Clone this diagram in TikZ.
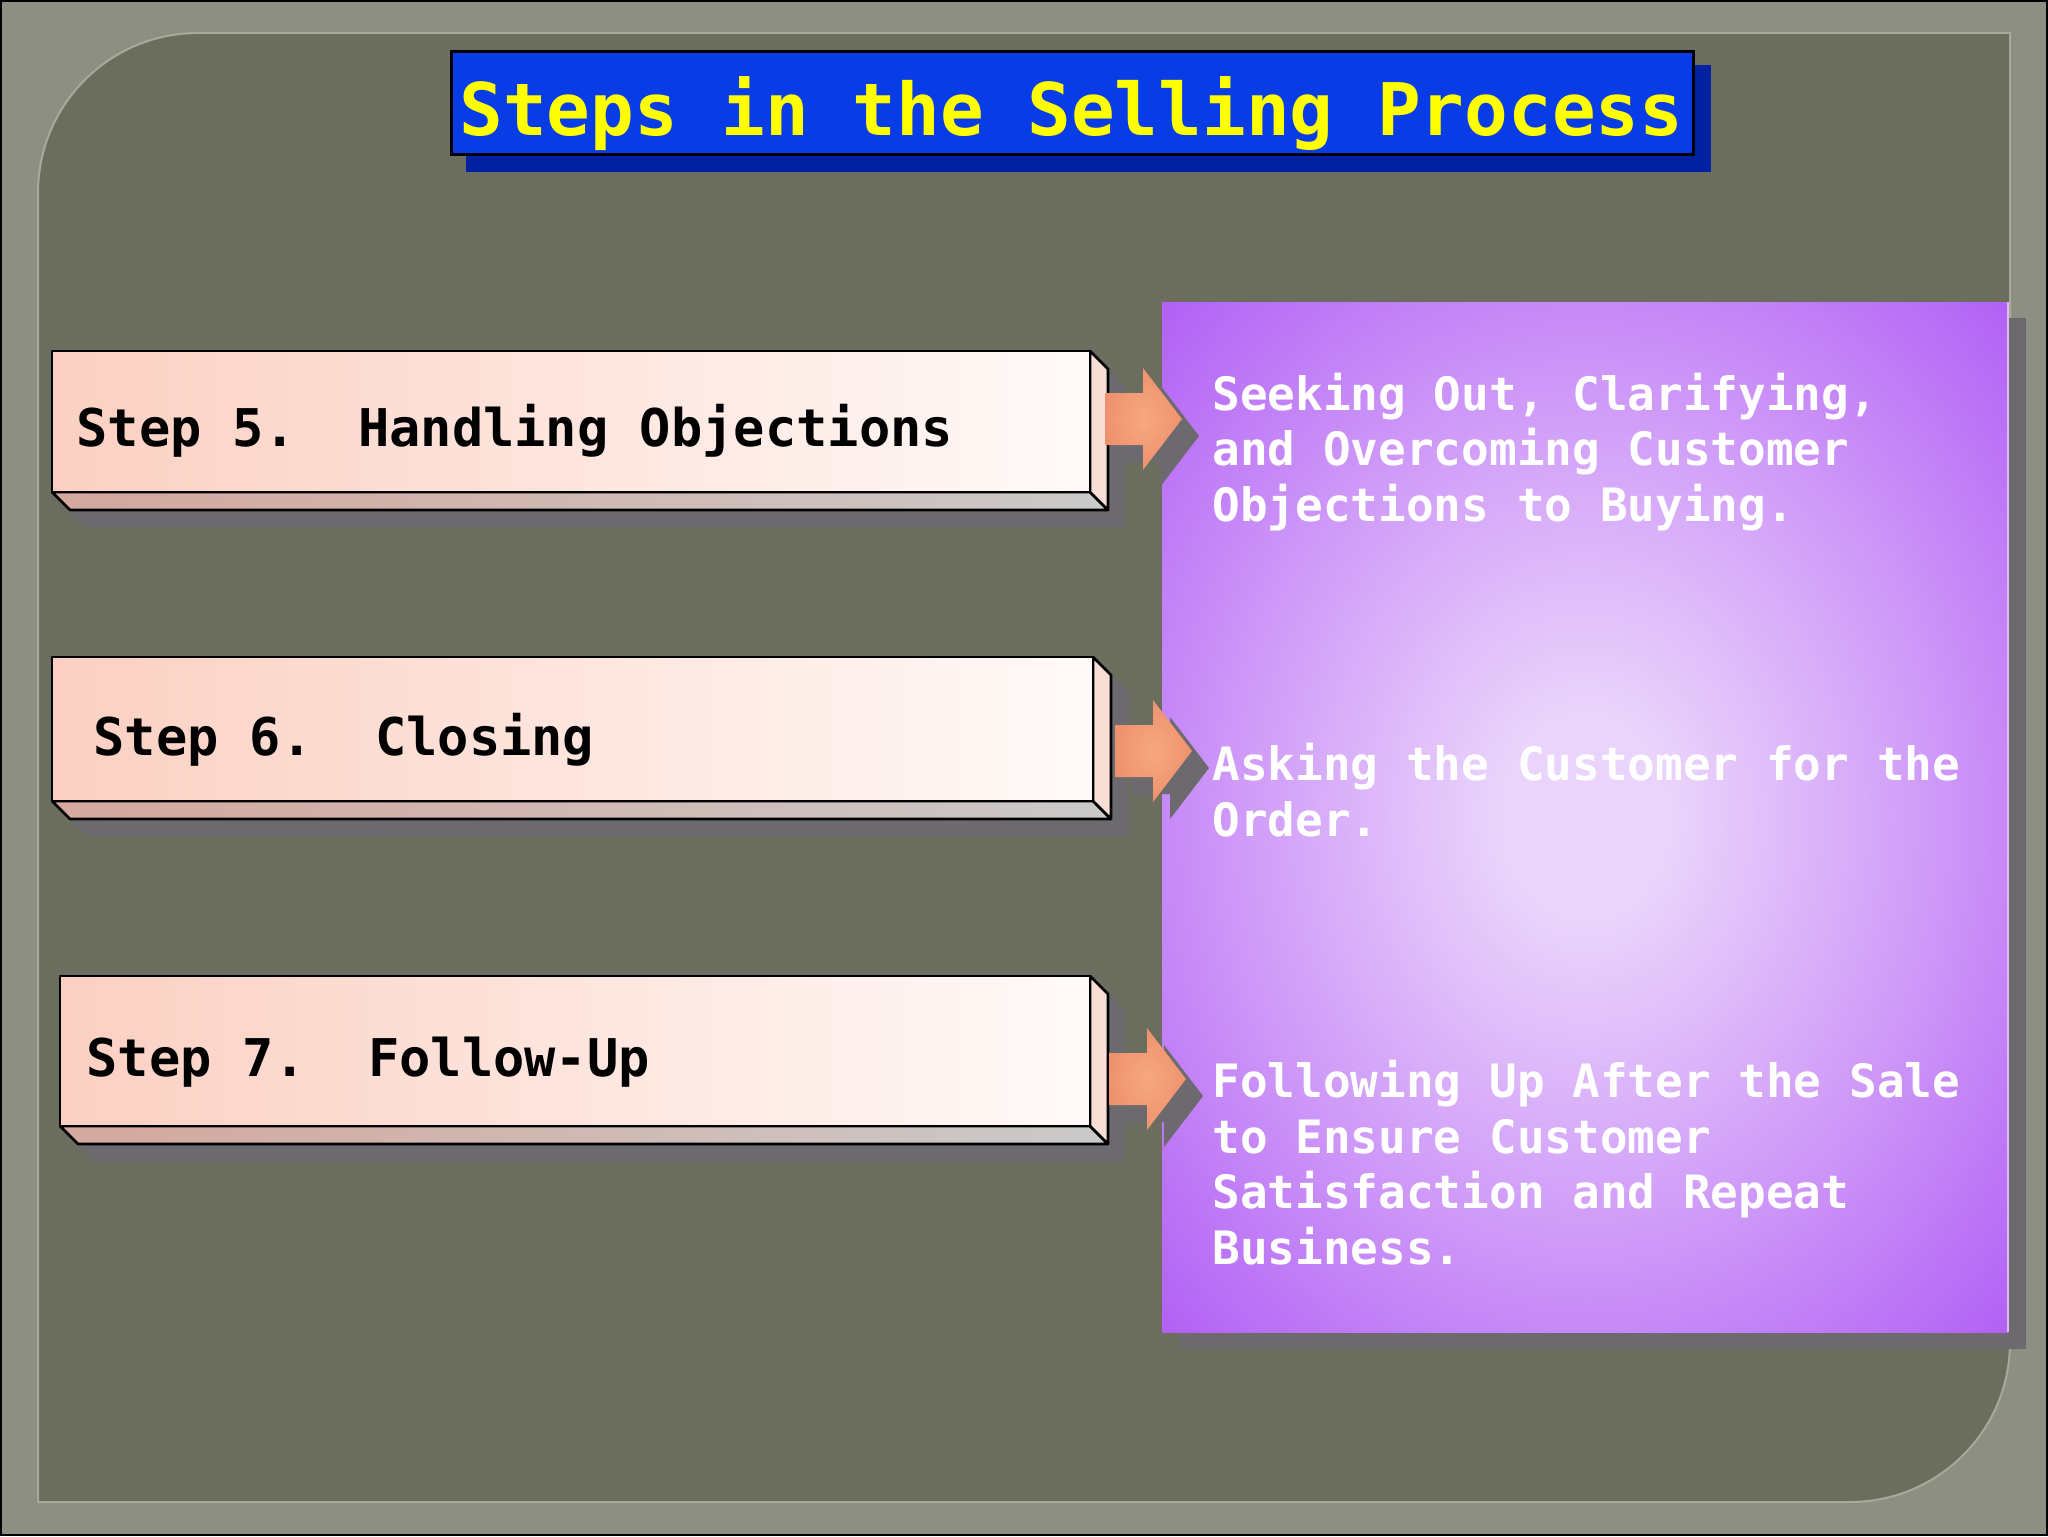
\documentclass[tikz,border=0pt]{standalone}
\usepackage{fontspec}
\usepackage{tikz}
\newfontfamily\slidemono{DejaVu Sans Mono}
\definecolor{framegrey}{RGB}{141,143,130}
\definecolor{panelgrey}{RGB}{107,109,95}
\definecolor{bevelline}{RGB}{168,170,153}
\definecolor{titleblue}{RGB}{8,60,230}
\definecolor{titleshade}{RGB}{0,34,160}
\definecolor{titleyellow}{RGB}{255,255,0}
\definecolor{dropgrey}{RGB}{108,106,110}
\definecolor{glowedge}{RGB}{178,98,245}
\definecolor{glowmid}{RGB}{206,152,248}
\definecolor{glowcentre}{RGB}{234,212,251}
\definecolor{panelrim}{RGB}{226,186,246}
\definecolor{peachface}{RGB}{251,208,194}
\definecolor{whiteface}{RGB}{255,250,249}
\definecolor{sidepeach}{RGB}{248,222,212}
\definecolor{floorpink}{RGB}{212,168,158}
\definecolor{floorgrey}{RGB}{202,202,202}
\definecolor{arroworange}{RGB}{238,146,110}
\definecolor{arrowlight}{RGB}{247,168,128}
\pgfdeclareradialshading{panelglow}{\pgfpoint{0bp}{0bp}}{color(0bp)=(glowcentre); color(5bp)=(glowcentre); color(21bp)=(glowmid); color(35bp)=(glowedge); color(50bp)=(glowedge)}
\newcommand{\sellingStepBox}[4]{
  \fill[color=dropgrey] (#1+17,#2+17) -- (#3+17,#2+17) -- (#3+35,#2+35) -- (#3+35,#4+35) -- (#1+35,#4+35) -- (#1+17,#4+17) -- cycle;
  \shade[facerim,left color=floorpink,right color=floorgrey] (#1,#4) -- (#3,#4) -- (#3+18,#4+18) -- (#1+18,#4+18) -- cycle;
  \fill[facerim,fill=sidepeach] (#3,#2) -- (#3+18,#2+18) -- (#3+18,#4+18) -- (#3,#4) -- cycle;
  \shade[facerim,left color=peachface,right color=whiteface] (#1,#2) rectangle (#3,#4)
}
\newcommand{\sellingArrow}[1]{
  \fill[color=dropgrey,shift={#1},shift={(17,17)}] (-77,-26) -- (-39,-26) -- (-39,-51) -- (0,0) -- (-39,51) -- (-39,26) -- (-77,26) -- cycle;
  \shade[inner color=arrowlight,outer color=arroworange,shift={#1}] (-77,-26) -- (-39,-26) -- (-39,-51) -- (0,0) -- (-39,51) -- (-39,26) -- (-77,26) -- cycle
}

\begin{document}
\begin{tikzpicture}[x=0.5pt,y=-0.5pt,
  facerim/.style={draw=black,line width=1.3pt,line join=round},
  steplabel/.style={anchor=base west,inner sep=0pt,text=black,font=\slidemono\bfseries\fontsize{26}{31}\selectfont},
  paneltext/.style={anchor=base west,inner sep=0pt,align=left,text=white,font=\slidemono\bfseries\fontsize{23}{27.7}\selectfont}]
  \useasboundingbox (0,0) rectangle (2048,1536);
  \fill[color=framegrey] (0,0) rectangle (2048,1536);
  \draw[color=black,line width=1pt] (1,1) rectangle (2047,1535);
  \filldraw[fill=panelgrey,draw=bevelline,line width=1pt] (38,193) arc[start angle=180,end angle=270,radius=160] -- (2010,33) -- (2010,1342) arc[start angle=0,end angle=90,radius=160] -- (38,1502) -- cycle;

  \fill[color=titleshade] (466,65) rectangle (1711,172);
  \filldraw[fill=titleblue,draw=black,line width=1.5pt] (451,52) rectangle (1693,154);
  \node[anchor=base west,inner sep=0pt,text=titleyellow,font=\slidemono\bfseries\fontsize{36.3}{43}\selectfont] (title) at (459,135) {Steps in the Selling Process};

  \fill[color=dropgrey] (1180,318) rectangle (2026,1349);
  \shade[shading=panelglow] (1162,302) rectangle (2008,1332);
  \draw[color=panelrim,line width=1pt] (2008,302) -- (2008,1332);

  \sellingStepBox{52}{351}{1090}{492};
  \sellingStepBox{52}{657}{1093}{801};
  \sellingStepBox{60}{976}{1090}{1126};

  \node[steplabel] (step5) at (76,446) {Step 5.~~Handling Objections};
  \node[steplabel] (step6) at (93,755) {Step 6.~~Closing};
  \node[steplabel] (step7) at (86,1076) {Step 7.~~Follow-Up};

  \node[paneltext] (objectionsText) at (1212,521) {Seeking Out, Clarifying,\\and Overcoming Customer\\Objections to Buying.};
  \node[paneltext] (closingText) at (1212,836) {Asking the Customer for the\\Order.};
  \node[paneltext] (followText) at (1212,1264) {Following Up After the Sale\\to Ensure Customer\\Satisfaction and Repeat\\Business.};

  \sellingArrow{(1182,419)};
  \sellingArrow{(1192,751)};
  \sellingArrow{(1186,1079)};
\end{tikzpicture}
\end{document}
